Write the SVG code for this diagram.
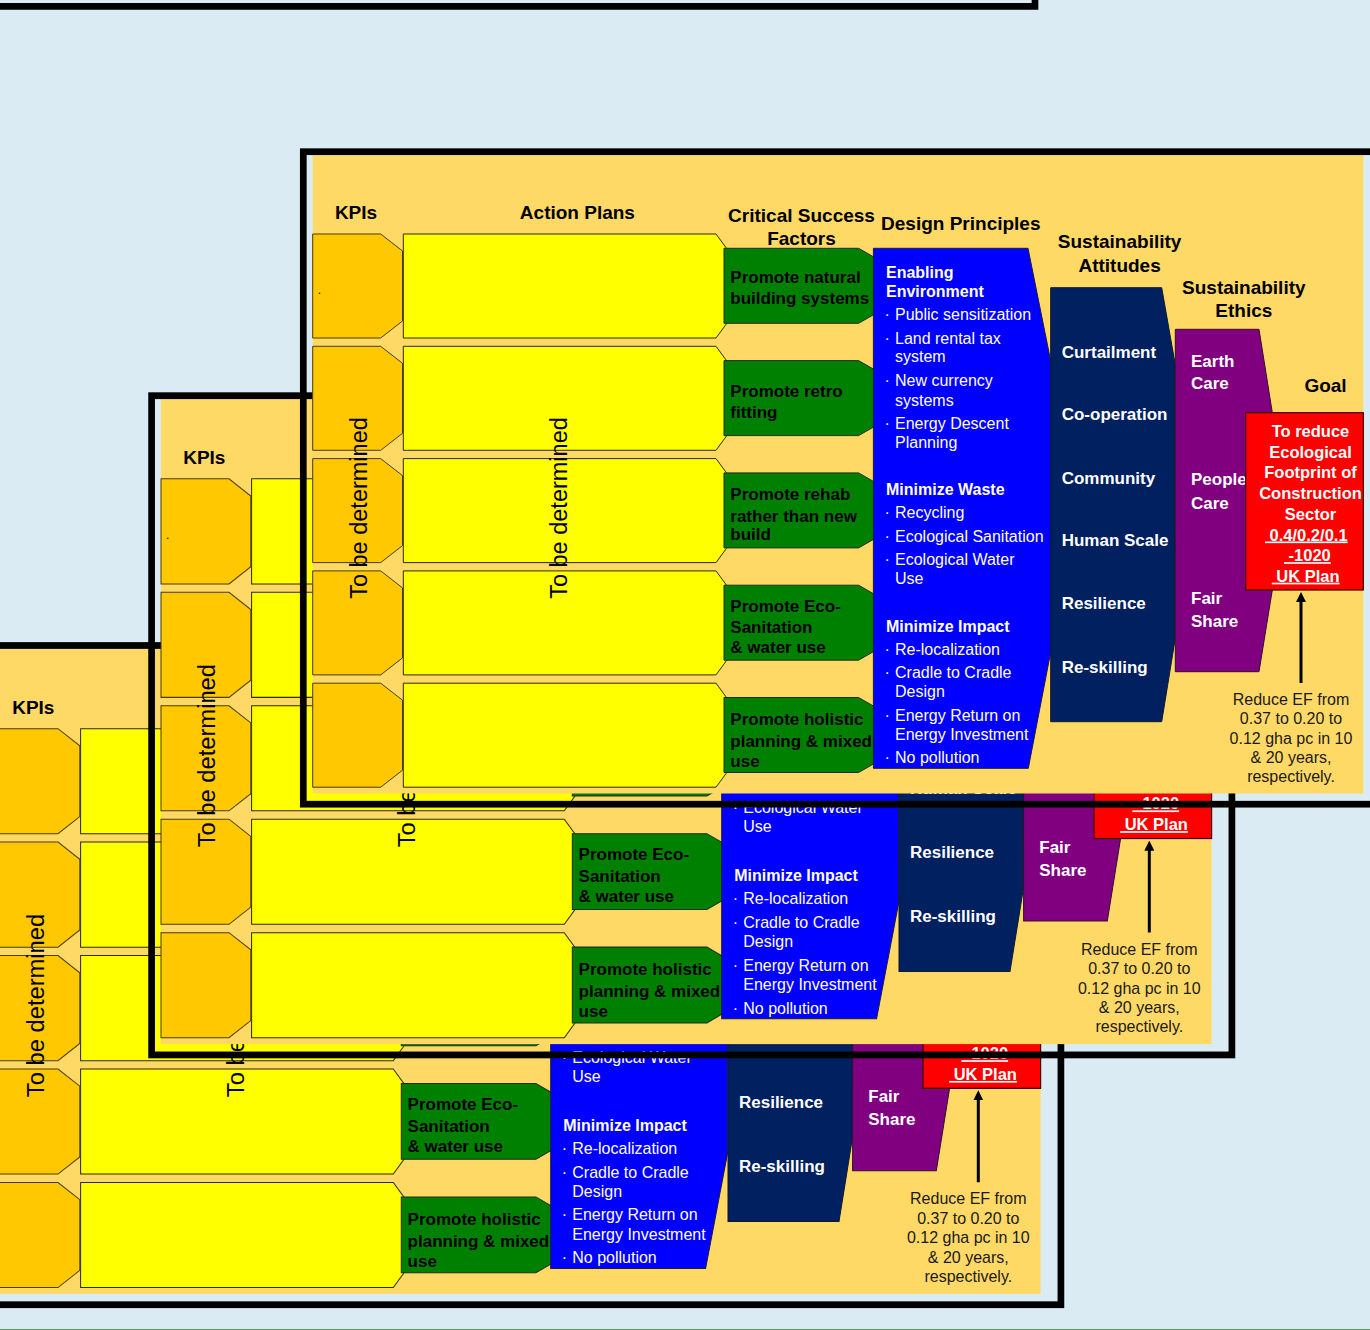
<svg xmlns="http://www.w3.org/2000/svg" width="1370" height="1330" viewBox="0 0 1370 1330">
<style>
text{font-family:'Liberation Sans',Arial,Helvetica,sans-serif}
.frame{fill:none;stroke:#000;stroke-width:6.7}
.slide{fill:#FFD966}
.kpi{fill:#FFC800;stroke:#4a3c00;stroke-width:1}
.ap{fill:#FFFF00;stroke:#2b2b00;stroke-width:1}
.csf{fill:#008000;stroke:#1e2e1e;stroke-width:1}
.dp{fill:#0000FF;stroke:#1a1a40;stroke-width:1}
.sa{fill:#002060;stroke:#101830;stroke-width:1}
.se{fill:#800080;stroke:#301030;stroke-width:1}
.goal{fill:#FF0000;stroke:#3a0000;stroke-width:1.2}
.hd{font-size:19px;font-weight:bold;fill:#000;text-anchor:middle}
.gt{font-size:17px;font-weight:bold;fill:#000}
.wt{font-size:17px;font-weight:bold;fill:#fff}
.dh{font-size:16px;font-weight:bold;fill:#fff}
.di{font-size:16px;fill:#fff}
.rt{font-size:16.5px;font-weight:bold;fill:#fff;text-anchor:middle}
.u{text-decoration:underline}
.nt{font-size:16px;fill:#1a1a1a;text-anchor:middle}
.tbd{font-size:23.5px;fill:#000;text-anchor:middle}
.dot{font-size:12px;fill:#000}
.arr{stroke:#000;stroke-width:3;fill:none;marker-end:url(#ah)}
</style>
<defs>
<marker id="ah" viewBox="0 0 10 10" refX="2" refY="5" markerWidth="10" markerHeight="10" markerUnits="userSpaceOnUse" orient="auto">
<path d="M0,0 L10,5 L0,10 z" fill="#000"/>
</marker>
</defs>
<rect x="0" y="0" width="1370" height="1330" fill="#DAEBF3"/>
<path id="top-slide-edge" d="M-5,6.3 H1035 V-5" fill="none" stroke="#000" stroke-width="6.7"/>
<line x1="0" y1="1329.5" x2="1370" y2="1329.5" stroke="#5B9B5B" stroke-width="1"/>

<!-- BACK SLIDE -->
<g id="back-slide" transform="matrix(1 0 0 1.0103 -322.7 492.24)">
<rect class="slide" x="312.7" y="155" width="1050.6" height="638.5"/>
<rect class="frame" x="303.3" y="151.7" width="1080.3" height="652.5"/>
<text class="hd" x="356" y="219.3">KPIs</text>
<g id="b-kpis">
<polygon class="kpi" points="312.7,234 380.7,234 402.5,251 402.5,321 380.7,338 312.7,338"/>
<polygon class="kpi" points="312.7,346.3 380.7,346.3 402.5,363.3 402.5,433.3 380.7,450.3 312.7,450.3"/>
<polygon class="kpi" points="312.7,458.6 380.7,458.6 402.5,475.6 402.5,545.6 380.7,562.6 312.7,562.6"/>
<polygon class="kpi" points="312.7,570.9 380.7,570.9 402.5,587.9 402.5,657.9 380.7,674.9 312.7,674.9"/>
<polygon class="kpi" points="312.7,683.2 380.7,683.2 402.5,700.2 402.5,770.2 380.7,787.2 312.7,787.2"/>
<text class="tbd" transform="translate(367,508) rotate(-90)">To be determined</text>
</g>
<g id="b-actions">
<polygon class="ap" points="403.3,234 716,234 726.5,248.3 726.5,323.7 716,338 403.3,338"/>
<polygon class="ap" points="403.3,346.3 716,346.3 726.5,360.6 726.5,436 716,450.3 403.3,450.3"/>
<polygon class="ap" points="403.3,458.6 716,458.6 726.5,472.9 726.5,548.3 716,562.6 403.3,562.6"/>
<polygon class="ap" points="403.3,570.9 716,570.9 726.5,585.2 726.5,660.6 716,674.9 403.3,674.9"/>
<polygon class="ap" points="403.3,683.2 716,683.2 726.5,697.5 726.5,772.9 716,787.2 403.3,787.2"/>
<text class="tbd" transform="translate(566.5,508) rotate(-90)">To be determined</text>
</g>
<g id="b-csf">
<polygon class="csf" points="724,472.9 858.6,472.9 876,482.9 876,537.9 858.6,547.9 724,547.9"/>
<polygon class="csf" points="724,585.2 858.6,585.2 876,595.2 876,650.2 858.6,660.2 724,660.2"/>
<text class="gt" x="730.3" y="611.7">Promote Eco-</text>
<text class="gt" x="730.3" y="633.3">Sanitation</text>
<text class="gt" x="730.3" y="653.3">&amp; water use</text>
<polygon class="csf" points="724,697.5 858.6,697.5 876,707.5 876,762.5 858.6,772.5 724,772.5"/>
<text class="gt" x="730.3" y="725">Promote holistic</text>
<text class="gt" x="730.3" y="746.7">planning &amp; mixed</text>
<text class="gt" x="730.3" y="766.7">use</text>
</g>
<g id="b-design">
<polygon class="dp" points="873.4,248.3 1028,248.3 1050.5,360 1050.5,653 1028.3,768.3 873.4,768.3"/>
<text class="di" y="565"><tspan x="884.5">·</tspan><tspan x="895">Ecological Water</tspan></text>
<text class="di" x="895" y="584">Use</text>
<text class="dh" x="886" y="632">Minimize Impact</text>
<text class="di" y="655"><tspan x="884.5">·</tspan><tspan x="895">Re-localization</tspan></text>
<text class="di" y="678.3"><tspan x="884.5">·</tspan><tspan x="895">Cradle to Cradle</tspan></text>
<text class="di" x="895" y="697.3">Design</text>
<text class="di" y="720.7"><tspan x="884.5">·</tspan><tspan x="895">Energy Return on</tspan></text>
<text class="di" x="895" y="740">Energy Investment</text>
<text class="di" y="763.3"><tspan x="884.5">·</tspan><tspan x="895">No pollution</tspan></text>
</g>
<g id="b-attitudes">
<polygon class="sa" points="1050.7,287.7 1161.7,287.7 1175,363.3 1175,640 1161.7,721.7 1050.7,721.7"/>
<text class="wt" x="1061.7" y="546">Human Scale</text>
<text class="wt" x="1061.7" y="609">Resilience</text>
<text class="wt" x="1061.7" y="672.7">Re-skilling</text>
</g>
<g id="b-ethics">
<polygon class="se" points="1175.3,329.3 1259,329.3 1272.3,412.7 1272.3,590 1259,671.7 1175.3,671.7"/>
<text class="wt" x="1191" y="604">Fair</text>
<text class="wt" x="1191" y="626.7">Share</text>
</g>
<g id="b-goal">
<rect class="goal" x="1245.7" y="412.7" width="117.6" height="177.3"/>
<text class="rt u" x="1307.4" y="561.2">&#160;-1020</text>
<text class="rt u" x="1305.7" y="581.7">&#160;UK Plan</text>
</g>
<g id="b-connectors">
<line class="arr" x1="1301" y1="683" x2="1301" y2="600"/>
</g>
<g id="b-note">
<text class="nt" x="1291" y="705">Reduce EF from</text>
<text class="nt" x="1291" y="724.3">0.37 to 0.20 to</text>
<text class="nt" x="1291" y="743.6">0.12 gha pc in 10</text>
<text class="nt" x="1291" y="762.9">&amp; 20 years,</text>
<text class="nt" x="1291" y="781.5">respectively.</text>
</g>
</g>

<!-- MIDDLE SLIDE -->
<g id="middle-slide" transform="matrix(1 0 0 1.0103 -151.7 242.44)">
<rect class="slide" x="312.7" y="155" width="1050.6" height="638.5"/>
<rect class="frame" x="303.3" y="151.7" width="1080.3" height="652.5"/>
<text class="hd" x="356" y="219.3">KPIs</text>
<g id="m-kpis">
<polygon class="kpi" points="312.7,234 380.7,234 402.5,251 402.5,321 380.7,338 312.7,338"/>
<polygon class="kpi" points="312.7,346.3 380.7,346.3 402.5,363.3 402.5,433.3 380.7,450.3 312.7,450.3"/>
<polygon class="kpi" points="312.7,458.6 380.7,458.6 402.5,475.6 402.5,545.6 380.7,562.6 312.7,562.6"/>
<polygon class="kpi" points="312.7,570.9 380.7,570.9 402.5,587.9 402.5,657.9 380.7,674.9 312.7,674.9"/>
<polygon class="kpi" points="312.7,683.2 380.7,683.2 402.5,700.2 402.5,770.2 380.7,787.2 312.7,787.2"/>
<text class="dot" x="317.8" y="294">.</text>
<text class="tbd" transform="translate(367,508) rotate(-90)">To be determined</text>
</g>
<g id="m-actions">
<polygon class="ap" points="403.3,234 716,234 726.5,248.3 726.5,323.7 716,338 403.3,338"/>
<polygon class="ap" points="403.3,346.3 716,346.3 726.5,360.6 726.5,436 716,450.3 403.3,450.3"/>
<polygon class="ap" points="403.3,458.6 716,458.6 726.5,472.9 726.5,548.3 716,562.6 403.3,562.6"/>
<polygon class="ap" points="403.3,570.9 716,570.9 726.5,585.2 726.5,660.6 716,674.9 403.3,674.9"/>
<polygon class="ap" points="403.3,683.2 716,683.2 726.5,697.5 726.5,772.9 716,787.2 403.3,787.2"/>
<text class="tbd" transform="translate(566.5,508) rotate(-90)">To be determined</text>
</g>
<g id="m-csf">
<polygon class="csf" points="724,472.9 858.6,472.9 876,482.9 876,537.9 858.6,547.9 724,547.9"/>
<polygon class="csf" points="724,585.2 858.6,585.2 876,595.2 876,650.2 858.6,660.2 724,660.2"/>
<text class="gt" x="730.3" y="611.7">Promote Eco-</text>
<text class="gt" x="730.3" y="633.3">Sanitation</text>
<text class="gt" x="730.3" y="653.3">&amp; water use</text>
<polygon class="csf" points="724,697.5 858.6,697.5 876,707.5 876,762.5 858.6,772.5 724,772.5"/>
<text class="gt" x="730.3" y="725">Promote holistic</text>
<text class="gt" x="730.3" y="746.7">planning &amp; mixed</text>
<text class="gt" x="730.3" y="766.7">use</text>
</g>
<g id="m-design">
<polygon class="dp" points="873.4,248.3 1028,248.3 1050.5,360 1050.5,653 1028.3,768.3 873.4,768.3"/>
<text class="di" y="565"><tspan x="884.5">·</tspan><tspan x="895">Ecological Water</tspan></text>
<text class="di" x="895" y="584">Use</text>
<text class="dh" x="886" y="632">Minimize Impact</text>
<text class="di" y="655"><tspan x="884.5">·</tspan><tspan x="895">Re-localization</tspan></text>
<text class="di" y="678.3"><tspan x="884.5">·</tspan><tspan x="895">Cradle to Cradle</tspan></text>
<text class="di" x="895" y="697.3">Design</text>
<text class="di" y="720.7"><tspan x="884.5">·</tspan><tspan x="895">Energy Return on</tspan></text>
<text class="di" x="895" y="740">Energy Investment</text>
<text class="di" y="763.3"><tspan x="884.5">·</tspan><tspan x="895">No pollution</tspan></text>
</g>
<g id="m-attitudes">
<polygon class="sa" points="1050.7,287.7 1161.7,287.7 1175,363.3 1175,640 1161.7,721.7 1050.7,721.7"/>
<text class="wt" x="1061.7" y="546">Human Scale</text>
<text class="wt" x="1061.7" y="609">Resilience</text>
<text class="wt" x="1061.7" y="672.7">Re-skilling</text>
</g>
<g id="m-ethics">
<polygon class="se" points="1175.3,329.3 1259,329.3 1272.3,412.7 1272.3,590 1259,671.7 1175.3,671.7"/>
<text class="wt" x="1191" y="604">Fair</text>
<text class="wt" x="1191" y="626.7">Share</text>
</g>
<g id="m-goal">
<rect class="goal" x="1245.7" y="412.7" width="117.6" height="177.3"/>
<text class="rt u" x="1307.4" y="561.2">&#160;-1020</text>
<text class="rt u" x="1305.7" y="581.7">&#160;UK Plan</text>
</g>
<g id="m-connectors">
<line class="arr" x1="1301" y1="683" x2="1301" y2="600"/>
</g>
<g id="m-note">
<text class="nt" x="1291" y="705">Reduce EF from</text>
<text class="nt" x="1291" y="724.3">0.37 to 0.20 to</text>
<text class="nt" x="1291" y="743.6">0.12 gha pc in 10</text>
<text class="nt" x="1291" y="762.9">&amp; 20 years,</text>
<text class="nt" x="1291" y="781.5">respectively.</text>
</g>
</g>

<!-- FRONT SLIDE -->
<g id="front-slide">
<rect class="slide" x="312.7" y="155" width="1050.6" height="638.5"/>
<rect class="frame" x="303.3" y="151.7" width="1080.3" height="652.5"/>
<g id="f-headers">
<text class="hd" x="356" y="219.3">KPIs</text>
<text class="hd" x="577.4" y="219">Action Plans</text>
<text class="hd" x="801.5" y="221.7">Critical Success</text>
<text class="hd" x="801.5" y="245">Factors</text>
<text class="hd" x="960.8" y="230">Design Principles</text>
<text class="hd" x="1119.6" y="248.3">Sustainability</text>
<text class="hd" x="1119.6" y="271.7">Attitudes</text>
<text class="hd" x="1243.8" y="294">Sustainability</text>
<text class="hd" x="1243.8" y="316.7">Ethics</text>
<text class="hd" x="1325.5" y="392.3">Goal</text>
</g>
<g id="f-kpis">
<polygon class="kpi" points="312.7,234 380.7,234 402.5,251 402.5,321 380.7,338 312.7,338"/>
<polygon class="kpi" points="312.7,346.3 380.7,346.3 402.5,363.3 402.5,433.3 380.7,450.3 312.7,450.3"/>
<polygon class="kpi" points="312.7,458.6 380.7,458.6 402.5,475.6 402.5,545.6 380.7,562.6 312.7,562.6"/>
<polygon class="kpi" points="312.7,570.9 380.7,570.9 402.5,587.9 402.5,657.9 380.7,674.9 312.7,674.9"/>
<polygon class="kpi" points="312.7,683.2 380.7,683.2 402.5,700.2 402.5,770.2 380.7,787.2 312.7,787.2"/>
<text class="dot" x="317.8" y="294">.</text>
<text class="tbd" transform="translate(367,508) rotate(-90)">To be determined</text>
</g>
<g id="f-actions">
<polygon class="ap" points="403.3,234 716,234 726.5,248.3 726.5,323.7 716,338 403.3,338"/>
<polygon class="ap" points="403.3,346.3 716,346.3 726.5,360.6 726.5,436 716,450.3 403.3,450.3"/>
<polygon class="ap" points="403.3,458.6 716,458.6 726.5,472.9 726.5,548.3 716,562.6 403.3,562.6"/>
<polygon class="ap" points="403.3,570.9 716,570.9 726.5,585.2 726.5,660.6 716,674.9 403.3,674.9"/>
<polygon class="ap" points="403.3,683.2 716,683.2 726.5,697.5 726.5,772.9 716,787.2 403.3,787.2"/>
<text class="tbd" transform="translate(566.5,508) rotate(-90)">To be determined</text>
</g>
<g id="f-csf1">
<polygon class="csf" points="724,248.3 858.6,248.3 876,258.3 876,313.3 858.6,323.3 724,323.3"/>
<text class="gt" x="730.3" y="282.7">Promote natural</text>
<text class="gt" x="730.3" y="304.3">building systems</text>
</g>
<g id="f-csf2">
<polygon class="csf" points="724,360.6 858.6,360.6 876,370.6 876,425.6 858.6,435.6 724,435.6"/>
<text class="gt" x="730.3" y="397.3">Promote retro</text>
<text class="gt" x="730.3" y="418.3">fitting</text>
</g>
<g id="f-csf3">
<polygon class="csf" points="724,472.9 858.6,472.9 876,482.9 876,537.9 858.6,547.9 724,547.9"/>
<text class="gt" x="730.3" y="500">Promote rehab</text>
<text class="gt" x="730.3" y="521.7">rather than new</text>
<text class="gt" x="730.3" y="540">build</text>
</g>
<g id="f-csf4">
<polygon class="csf" points="724,585.2 858.6,585.2 876,595.2 876,650.2 858.6,660.2 724,660.2"/>
<text class="gt" x="730.3" y="611.7">Promote Eco-</text>
<text class="gt" x="730.3" y="633.3">Sanitation</text>
<text class="gt" x="730.3" y="653.3">&amp; water use</text>
</g>
<g id="f-csf5">
<polygon class="csf" points="724,697.5 858.6,697.5 876,707.5 876,762.5 858.6,772.5 724,772.5"/>
<text class="gt" x="730.3" y="725">Promote holistic</text>
<text class="gt" x="730.3" y="746.7">planning &amp; mixed</text>
<text class="gt" x="730.3" y="766.7">use</text>
</g>
<g id="f-design">
<polygon class="dp" points="873.4,248.3 1028,248.3 1050.5,360 1050.5,653 1028.3,768.3 873.4,768.3"/>
<text class="dh" x="886" y="278.3">Enabling</text>
<text class="dh" x="886" y="296.7">Environment</text>
<text class="di" y="320"><tspan x="884.5">·</tspan><tspan x="895">Public sensitization</tspan></text>
<text class="di" y="344"><tspan x="884.5">·</tspan><tspan x="895">Land rental tax</tspan></text>
<text class="di" x="895" y="361.7">system</text>
<text class="di" y="386"><tspan x="884.5">·</tspan><tspan x="895">New currency</tspan></text>
<text class="di" x="895" y="406">systems</text>
<text class="di" y="429"><tspan x="884.5">·</tspan><tspan x="895">Energy Descent</tspan></text>
<text class="di" x="895" y="448.3">Planning</text>
<text class="dh" x="886" y="495">Minimize Waste</text>
<text class="di" y="518.3"><tspan x="884.5">·</tspan><tspan x="895">Recycling</tspan></text>
<text class="di" y="542.3"><tspan x="884.5">·</tspan><tspan x="895">Ecological Sanitation</tspan></text>
<text class="di" y="565"><tspan x="884.5">·</tspan><tspan x="895">Ecological Water</tspan></text>
<text class="di" x="895" y="584">Use</text>
<text class="dh" x="886" y="632">Minimize Impact</text>
<text class="di" y="655"><tspan x="884.5">·</tspan><tspan x="895">Re-localization</tspan></text>
<text class="di" y="678.3"><tspan x="884.5">·</tspan><tspan x="895">Cradle to Cradle</tspan></text>
<text class="di" x="895" y="697.3">Design</text>
<text class="di" y="720.7"><tspan x="884.5">·</tspan><tspan x="895">Energy Return on</tspan></text>
<text class="di" x="895" y="740">Energy Investment</text>
<text class="di" y="763.3"><tspan x="884.5">·</tspan><tspan x="895">No pollution</tspan></text>
</g>
<g id="f-attitudes">
<polygon class="sa" points="1050.7,287.7 1161.7,287.7 1175,363.3 1175,640 1161.7,721.7 1050.7,721.7"/>
<text class="wt" x="1061.7" y="358.3">Curtailment</text>
<text class="wt" x="1061.7" y="420">Co-operation</text>
<text class="wt" x="1061.7" y="484">Community</text>
<text class="wt" x="1061.7" y="546">Human Scale</text>
<text class="wt" x="1061.7" y="609">Resilience</text>
<text class="wt" x="1061.7" y="672.7">Re-skilling</text>
</g>
<g id="f-ethics">
<polygon class="se" points="1175.3,329.3 1259,329.3 1272.3,412.7 1272.3,590 1259,671.7 1175.3,671.7"/>
<text class="wt" x="1191" y="366.7">Earth</text>
<text class="wt" x="1191" y="389.3">Care</text>
<text class="wt" x="1191" y="485">People</text>
<text class="wt" x="1191" y="509.3">Care</text>
<text class="wt" x="1191" y="604">Fair</text>
<text class="wt" x="1191" y="626.7">Share</text>
</g>
<g id="f-goal">
<rect class="goal" x="1245.7" y="412.7" width="117.6" height="177.3"/>
<text class="rt" x="1310.5" y="436.7">To reduce</text>
<text class="rt" x="1310.5" y="457.7">Ecological</text>
<text class="rt" x="1310.5" y="478.3">Footprint of</text>
<text class="rt" x="1310.5" y="498.8">Construction</text>
<text class="rt" x="1310.5" y="519.8">Sector</text>
<text class="rt u" x="1306.3" y="540.5">&#160;0.4/0.2/0.1</text>
<text class="rt u" x="1307.4" y="561.2">&#160;-1020</text>
<text class="rt u" x="1305.7" y="581.7">&#160;UK Plan</text>
</g>
<g id="f-connectors">
<line class="arr" x1="1301" y1="683" x2="1301" y2="600"/>
</g>
<g id="f-note">
<text class="nt" x="1291" y="705">Reduce EF from</text>
<text class="nt" x="1291" y="724.3">0.37 to 0.20 to</text>
<text class="nt" x="1291" y="743.6">0.12 gha pc in 10</text>
<text class="nt" x="1291" y="762.9">&amp; 20 years,</text>
<text class="nt" x="1291" y="781.5">respectively.</text>
</g>
</g>
</svg>
